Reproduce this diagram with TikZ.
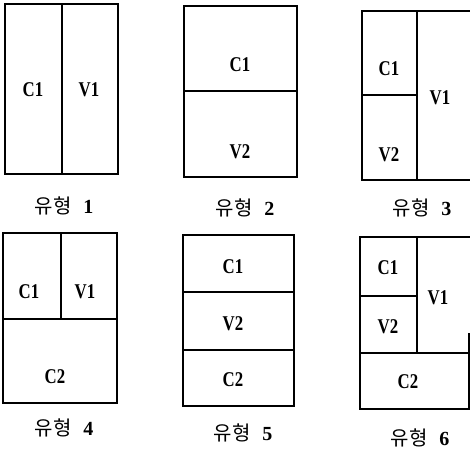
\documentclass[tikz,border=0pt]{standalone}
\usepackage{fontspec}
\setmainfont{Liberation Serif}
\newfontfamily\partfont[FakeStretch=0.8]{Liberation Serif}
\newfontfamily\krfont{Noto Sans CJK KR}
\begin{document}
\begin{tikzpicture}[x=1pt,y=-1pt,
  frame/.style={line width=1.6pt, line join=miter},
  part/.style={font=\partfont\bfseries\fontsize{21}{21}\selectfont, inner sep=0pt},
  caption/.style={font=\fontsize{20}{20}\selectfont, inner sep=0pt}]
\useasboundingbox (0,0) rectangle (470,453);
\clip (0,0) rectangle (470,453);

% type 1: two columns
\draw[frame] (5,4) rectangle (118,174);
\draw[frame] (62,4) -- (62,174);
\node[part] (t1c1) at (33,90) {C1};
\node[part] (t1v1) at (89,90) {V1};
\node[caption] (t1) at (64,206) {{\krfont 유형}\hspace{0.6em}\textbf{1}};

% type 2: two rows
\draw[frame] (184,6) rectangle (297,177);
\draw[frame] (184,91) -- (297,91);
\node[part] (t2c1) at (240,65) {C1};
\node[part] (t2v2) at (240,152) {V2};
\node[caption] (t2) at (245,208) {{\krfont 유형}\hspace{0.6em}\textbf{2}};

% type 3: stacked left column, tall right column
\draw[frame] (473,11) -- (362,11) -- (362,180) -- (473,180);
\draw[frame] (417,11) -- (417,180);
\draw[frame] (362,95) -- (417,95);
\node[part] (t3c1) at (389,69) {C1};
\node[part] (t3v2) at (389,155) {V2};
\node[part] (t3v1) at (440,98) {V1};
\node[caption] (t3) at (422,208) {{\krfont 유형}\hspace{0.6em}\textbf{3}};

% type 4: two columns over a full-width row
\draw[frame] (3,233) rectangle (117,403);
\draw[frame] (3,319) -- (117,319);
\draw[frame] (61,233) -- (61,319);
\node[part] (t4c1) at (29,292) {C1};
\node[part] (t4v1) at (85,292) {V1};
\node[part] (t4c2) at (55,377) {C2};
\node[caption] (t4) at (64,428) {{\krfont 유형}\hspace{0.6em}\textbf{4}};

% type 5: three rows
\draw[frame] (183,235) rectangle (294,406);
\draw[frame] (183,292) -- (294,292);
\draw[frame] (183,350) -- (294,350);
\node[part] (t5c1) at (233,267) {C1};
\node[part] (t5v2) at (233,324) {V2};
\node[part] (t5c2) at (233,380) {C2};
\node[caption] (t5) at (243,433) {{\krfont 유형}\hspace{0.6em}\textbf{5}};

% type 6: type 3 over a full-width row
\draw[frame] (473,237) -- (360,237) -- (360,409) -- (469,409) -- (469,333);
\draw[frame] (360,353) -- (473,353);
\draw[frame] (417,237) -- (417,353);
\draw[frame] (360,296) -- (417,296);
\node[part] (t6c1) at (388,268) {C1};
\node[part] (t6v2) at (388,327) {V2};
\node[part] (t6v1) at (438,298) {V1};
\node[part] (t6c2) at (408,382) {C2};
\node[caption] (t6) at (420,438) {{\krfont 유형}\hspace{0.6em}\textbf{6}};
\end{tikzpicture}
\end{document}
